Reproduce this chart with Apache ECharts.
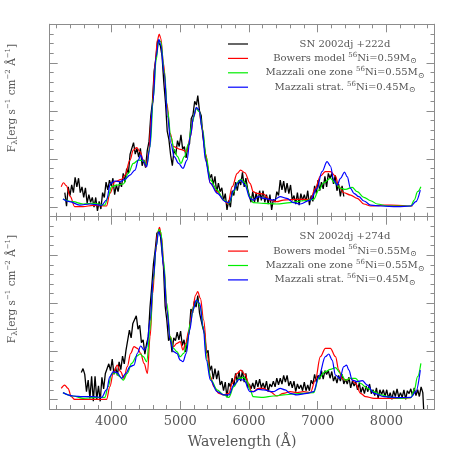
<!DOCTYPE html>
<html><head><meta charset="utf-8">
<script src="https://cdn.jsdelivr.net/npm/echarts@6/dist/echarts.min.js"></script>
<style>html,body{margin:0;padding:0;background:#fff}#c{width:458px;height:458px}</style>
</head><body><div id="c"></div>
<script>
// ---------- data (wavelength in Å, flux in arbitrary units) ----------
const xTickLabels = [4000, 5000, 6000, 7000, 8000];
const legendTop = ['SN 2002dj +222d', 'Bowers model {sup|56}Ni=0.59M{sub|⊙}', 'Mazzali one zone {sup|56}Ni=0.55M{sub|⊙}', 'Mazzali strat. {sup|56}Ni=0.45M{sub|⊙}'];
const legendBot = ['SN 2002dj +274d', 'Bowers model {sup|56}Ni=0.55M{sub|⊙}', 'Mazzali one zone {sup|56}Ni=0.55M{sub|⊙}', 'Mazzali strat. {sup|56}Ni=0.45M{sub|⊙}'];

const topObs = [[3320,2.5],[3345,1.1],[3370,3.1],[3395,2.2],[3420,3.3],[3445,2.5],[3470,4.1],[3495,3.1],[3520,4.0],[3545,2.5],[3570,3.1],[3595,2.0],[3620,3.0],[3645,1.4],[3670,2.3],[3695,1.5],[3720,2.0],[3745,1.0],[3770,2.0],[3795,0.6],[3820,1.6],[3845,0.8],[3870,2.5],[3895,2.0],[3920,3.6],[3945,2.8],[3970,3.8],[3995,3.2],[4020,4.0],[4045,2.3],[4070,3.3],[4095,2.6],[4120,3.6],[4145,3.1],[4170,4.5],[4195,3.6],[4220,5.0],[4245,4.5],[4270,6.5],[4295,6.3],[4320,7.7],[4345,6.5],[4370,7.1],[4395,6.2],[4420,7.1],[4445,5.3],[4470,5.9],[4495,5.1],[4520,6.9],[4545,7.8],[4570,10.4],[4595,11.9],[4620,15.1],[4645,16.5],[4670,18.3],[4690,18.5],[4710,17.8],[4735,16.7],[4760,14.0],[4785,11.9],[4810,8.9],[4835,8.0],[4860,6.4],[4885,5.3],[4910,7.0],[4935,6.5],[4960,7.9],[4985,7.3],[5010,8.5],[5035,7.0],[5060,7.3],[5085,6.1],[5110,7.3],[5135,7.6],[5160,10.2],[5185,10.6],[5210,12.0],[5235,11.6],[5255,12.6],[5280,11.0],[5305,10.5],[5330,8.3],[5355,8.2],[5380,5.8],[5405,5.9],[5430,4.0],[5455,4.4],[5480,3.3],[5505,4.2],[5530,2.5],[5555,3.5],[5580,2.6],[5605,3.0],[5630,1.7],[5655,2.4],[5680,0.7],[5705,1.7],[5730,1.0],[5755,2.7],[5780,2.2],[5805,3.6],[5830,2.7],[5855,3.8],[5880,3.3],[5905,4.6],[5930,3.1],[5955,4.0],[5980,2.9],[6005,2.8],[6030,1.5],[6055,2.6],[6080,1.5],[6105,2.5],[6130,1.5],[6155,2.7],[6180,1.7],[6205,2.7],[6230,1.5],[6255,2.3],[6280,1.3],[6305,2.3],[6330,0.7],[6355,1.8],[6380,1.5],[6405,2.6],[6430,2.2],[6455,3.8],[6480,2.8],[6505,3.7],[6530,2.5],[6555,3.5],[6580,2.4],[6605,3.3],[6630,1.7],[6655,2.2],[6680,1.3],[6705,2.5],[6730,1.2],[6755,2.4],[6780,1.7],[6805,2.3],[6830,1.6],[6855,2.7],[6880,1.2],[6905,2.2],[6930,1.6],[6955,3.2],[6980,2.4],[7005,3.8],[7030,2.7],[7055,3.6],[7080,2.9],[7105,4.2],[7130,3.1],[7155,4.5],[7180,4.0],[7205,4.5],[7230,3.4],[7255,4.3],[7280,2.7],[7305,3.4],[7330,2.1],[7355,3.2],[7380,2.1]];

const topBowers = [[3268,3.12],[3302,3.53],[3341,3.22],[3400,2.08],[3463,1.04],[3585,1.04],[3732,1.18],[3927,1.11],[3976,2.43],[4049,3.64],[4146,3.88],[4195,4.33],[4268,5.89],[4317,6.93],[4366,7.17],[4415,6.76],[4463,5.89],[4502,5.20],[4537,6.58],[4585,10.74],[4634,15.94],[4668,18.36],[4693,18.99],[4717,18.54],[4756,15.94],[4805,11.78],[4854,8.66],[4902,7.28],[5000,7.00],[5098,6.76],[5146,8.32],[5195,10.40],[5234,11.26],[5268,11.09],[5317,9.36],[5366,6.58],[5439,3.47],[5537,2.60],[5634,1.73],[5693,1.32],[5756,3.12],[5829,4.50],[5878,4.85],[5941,4.57],[6015,3.47],[6063,2.60],[6112,2.43],[6210,2.36],[6307,1.73],[6405,1.56],[6502,1.73],[6698,1.80],[6893,1.80],[6966,2.95],[7039,4.23],[7112,4.68],[7185,4.68],[7259,4.23],[7307,3.12],[7380,2.49],[7478,2.25],[7576,1.91],[7673,1.32],[7771,1.11],[7966,1.21],[8161,1.18],[8307,1.11],[8380,1.11]];

const topOneZone = [[3293,1.84],[3439,1.56],[3585,1.32],[3732,1.39],[3902,1.21],[3951,2.08],[4000,3.12],[4073,3.29],[4171,3.40],[4244,4.50],[4317,5.54],[4390,5.89],[4463,5.82],[4512,5.37],[4561,7.28],[4610,12.47],[4649,16.29],[4688,18.36],[4717,18.19],[4766,15.25],[4815,11.09],[4863,8.32],[4912,6.93],[4961,6.24],[5010,5.54],[5059,6.24],[5122,7.62],[5171,9.70],[5229,11.26],[5278,10.91],[5327,9.01],[5376,6.24],[5439,3.81],[5537,2.77],[5634,1.73],[5707,1.39],[5780,2.60],[5835,3.6],[5880,3.88],[5941,3.53],[6015,2.08],[6063,1.46],[6210,1.39],[6405,1.32],[6600,1.46],[6795,1.66],[6941,1.80],[7015,2.77],[7088,3.53],[7185,3.98],[7259,3.47],[7332,2.95],[7405,2.84],[7502,3.05],[7576,2.60],[7673,2.01],[7771,1.66],[7868,1.32],[8015,1.11],[8161,1.11],[8356,1.11],[8405,1.73],[8454,2.60],[8502,3.12]];

const topStrat = [[3293,1.84],[3390,1.56],[3537,1.21],[3683,1.32],[3854,1.18],[3927,1.73],[3985,3.47],[4049,3.71],[4122,3.64],[4195,3.88],[4268,4.33],[4341,4.85],[4390,5.89],[4424,6.41],[4463,5.72],[4512,5.20],[4551,6.93],[4600,11.78],[4649,16.63],[4688,18.43],[4717,17.84],[4766,14.90],[4815,10.40],[4863,7.62],[4912,6.24],[4976,5.54],[5039,5.02],[5098,5.89],[5146,8.32],[5195,10.40],[5234,11.37],[5273,11.09],[5322,9.01],[5366,5.89],[5439,3.47],[5537,2.43],[5659,1.56],[5707,1.46],[5780,2.77],[5835,3.5],[5880,3.81],[5941,3.29],[6015,1.91],[6063,1.73],[6137,2.08],[6210,1.91],[6356,1.73],[6454,2.08],[6551,1.91],[6649,1.46],[6746,1.32],[6893,1.73],[6990,2.95],[7063,4.68],[7137,5.72],[7185,5.27],[7234,3.81],[7283,3.29],[7332,3.98],[7390,4.64],[7429,4.16],[7478,2.95],[7527,2.43],[7600,2.08],[7673,1.63],[7771,1.21],[7917,1.11],[8161,1.04],[8356,1.11],[8429,1.56],[8493,2.77]];

const botObs = [[3560,3.8],[3585,4.2],[3610,3.6],[3635,1.8],[3660,3.0],[3685,1.1],[3710,3.4],[3735,0.8],[3760,3.4],[3785,1.0],[3810,2.4],[3835,0.8],[3860,3.3],[3885,2.1],[3910,3.7],[3935,3.7],[3960,4.7],[3985,4.0],[4010,5.2],[4035,3.6],[4060,4.3],[4085,3.5],[4110,4.9],[4135,4.1],[4160,5.5],[4185,4.7],[4210,6.1],[4235,6.2],[4260,8.2],[4285,7.4],[4310,8.9],[4335,8.8],[4360,9.7],[4385,8.3],[4410,8.7],[4435,6.9],[4460,7.2],[4485,5.7],[4510,6.8],[4535,7.5],[4560,10.6],[4585,12.7],[4610,15.1],[4635,16.5],[4660,18.3],[4685,18.4],[4705,18.5],[4730,16.7],[4755,14.9],[4780,10.7],[4805,9.2],[4830,7.1],[4855,7.5],[4880,5.9],[4905,7.4],[4930,7.1],[4955,8.0],[4980,7.2],[5005,8.1],[5030,6.6],[5055,7.2],[5080,5.9],[5105,7.3],[5130,8.0],[5155,10.4],[5180,10.0],[5205,11.2],[5230,10.6],[5255,11.8],[5280,10.0],[5305,10.2],[5330,8.4],[5355,7.8],[5380,5.8],[5405,6.1],[5430,4.0],[5455,4.5],[5480,3.1],[5505,4.2],[5530,3.1],[5555,4.0],[5580,2.5],[5605,2.9],[5630,1.9],[5655,2.8],[5680,1.2],[5705,2.7],[5730,2.3],[5755,3.2],[5780,2.4],[5805,3.7],[5830,2.8],[5855,3.9],[5880,2.9],[5905,4.0],[5930,2.8],[5955,3.7],[5980,2.2],[6005,2.6],[6030,2.1],[6055,2.7],[6080,2.1],[6105,3.0],[6130,2.3],[6155,3.1],[6180,2.2],[6205,2.7],[6230,2.1],[6255,2.9],[6280,1.8],[6305,2.6],[6330,2.3],[6355,2.9],[6380,2.3],[6405,3.2],[6430,2.5],[6455,3.2],[6480,2.6],[6505,3.5],[6530,2.8],[6555,3.5],[6580,2.4],[6605,2.9],[6630,2.2],[6655,2.9],[6680,1.8],[6705,2.6],[6730,2.1],[6755,2.5],[6780,1.9],[6805,2.8],[6830,1.9],[6855,2.5],[6880,1.9],[6905,3.0],[6930,2.6],[6955,3.6],[6980,2.8],[7005,3.5],[7030,3.1],[7055,4.0],[7080,3.1],[7105,4.0],[7130,3.6],[7155,4.0],[7180,3.2],[7205,3.9],[7230,2.9],[7255,3.4],[7280,2.7],[7305,3.5],[7330,2.9],[7355,3.6],[7380,2.6],[7405,3.1],[7430,2.6],[7455,3.3],[7480,2.2],[7505,2.9],[7530,2.4],[7555,2.8],[7580,2.0],[7605,2.7],[7630,1.7],[7655,2.3],[7680,1.6],[7705,2.4],[7730,1.8],[7755,2.6],[7780,1.6],[7805,2.0],[7830,1.4],[7855,2.2],[7880,1.1],[7905,2.0],[7930,1.5],[7955,2.0],[7980,1.3],[8005,2.0],[8030,1.1],[8055,1.7],[8080,1.0],[8105,1.9],[8130,1.3],[8155,2.1],[8180,1.2],[8205,1.7],[8230,1.2],[8255,2.0],[8280,1.0],[8305,1.9],[8330,1.6],[8355,2.1],[8380,1.4],[8405,2.2],[8430,1.4],[8455,2.0],[8480,1.3],[8505,2.3],[8530,1.7],[8541,1.9],[8542,0.0]];

const botBowers = [[3268,2.15],[3317,2.49],[3366,2.15],[3415,1.28],[3463,1.00],[3634,1.00],[3780,1.00],[3927,1.00],[3976,2.32],[4024,3.71],[4083,4.57],[4132,3.88],[4180,3.19],[4229,4.40],[4278,5.79],[4327,6.48],[4376,6.31],[4424,5.79],[4473,4.75],[4522,3.71],[4561,7.52],[4600,12.02],[4639,16.18],[4668,18.26],[4698,18.88],[4727,17.91],[4766,14.45],[4805,10.29],[4854,7.52],[4902,6.48],[4951,6.83],[5000,7.00],[5039,6.13],[5078,6.83],[5127,8.21],[5176,10.29],[5224,11.85],[5254,12.20],[5293,11.50],[5341,9.25],[5390,5.79],[5439,3.36],[5488,2.32],[5561,1.63],[5634,1.46],[5707,1.63],[5756,2.67],[5829,3.71],[5880,4.05],[5941,3.6],[6000,2.6],[6030,1.9],[6063,1.80],[6137,2.15],[6210,2.15],[6307,1.80],[6405,1.35],[6502,1.63],[6600,1.80],[6698,1.70],[6795,1.80],[6893,1.70],[6966,3.01],[7039,5.44],[7112,6.31],[7185,6.31],[7259,5.44],[7307,4.05],[7356,3.19],[7405,3.01],[7478,3.19],[7551,2.67],[7624,1.63],[7698,1.28],[7820,1.11],[8015,1.11],[8210,1.11],[8356,1.18]];

const botOneZone = [[3293,1.70],[3439,1.35],[3585,1.11],[3732,1.18],[3902,1.21],[3951,2.32],[4000,3.64],[4063,3.78],[4122,3.36],[4171,3.01],[4229,3.71],[4293,4.75],[4366,5.51],[4415,5.72],[4463,5.44],[4512,4.92],[4561,8.21],[4610,13.41],[4649,16.87],[4688,18.68],[4717,18.43],[4756,15.49],[4805,10.98],[4854,7.52],[4902,6.31],[4951,5.96],[5000,5.44],[5049,5.79],[5098,6.83],[5146,8.91],[5195,10.64],[5244,11.33],[5293,10.64],[5341,8.21],[5390,5.09],[5449,3.01],[5537,1.98],[5634,1.46],[5707,1.21],[5780,2.32],[5854,3.19],[5927,3.29],[5970,2.9],[6015,2.0],[6063,1.28],[6210,1.21],[6356,1.35],[6502,1.46],[6649,1.56],[6795,1.63],[6941,1.70],[7015,3.19],[7112,3.88],[7185,4.12],[7259,4.30],[7332,3.71],[7405,3.01],[7478,3.19],[7551,3.19],[7624,2.67],[7722,2.15],[7820,1.80],[7917,1.46],[8063,1.21],[8210,1.11],[8356,1.18],[8405,1.98],[8454,3.36],[8502,4.75]];

const botStrat = [[3293,1.70],[3439,1.35],[3585,1.28],[3732,1.28],[3854,1.21],[3927,1.98],[3976,3.36],[4024,3.88],[4083,3.78],[4146,3.19],[4210,3.71],[4268,4.40],[4327,4.57],[4376,5.79],[4424,6.55],[4473,6.13],[4512,6.48],[4561,9.25],[4610,13.76],[4649,16.87],[4683,18.43],[4717,17.91],[4756,14.80],[4805,10.29],[4854,7.17],[4902,5.96],[4951,5.79],[5000,5.09],[5039,4.92],[5088,5.79],[5137,8.21],[5185,10.29],[5234,11.33],[5283,10.98],[5332,8.56],[5380,5.09],[5439,3.01],[5537,1.80],[5634,1.46],[5707,1.46],[5780,2.49],[5854,3.08],[5927,3.01],[6015,1.80],[6063,1.80],[6137,2.04],[6210,1.98],[6356,1.80],[6454,2.15],[6527,1.98],[6600,1.63],[6698,1.46],[6844,1.63],[6941,1.80],[7015,3.36],[7112,5.44],[7161,5.72],[7210,5.09],[7259,3.53],[7322,3.19],[7380,4.40],[7420,4.57],[7454,4.05],[7502,3.01],[7576,2.84],[7649,2.95],[7722,2.49],[7820,1.63],[7966,1.28],[8161,1.18],[8356,1.21],[8429,1.80],[8493,4.05]];

// ---------- layout / style ----------
const AX = '#8c8c8c', TXT = '#555', FONT = 'DejaVu Serif';
const colors = ['#000000', '#ff0000', '#00ee00', '#0000ff'];
const xMin = 3100, xMax = 8700;
const xMajorTicks = [4000, 5000, 6000, 7000, 8000];
const xMinorTicks = []; for (let v = 3200; v <= 8600; v += 200) xMinorTicks.push(v);
const yMajorTicks = [1, 6, 11, 16];
const yMinorTicks = []; for (let v = 1; v < 20; v++) yMinorTicks.push(v);

const gridDefs = [
  {left: 49.7, top: 24.3, width: 384.8, height: 192.4},
  {left: 49.7, top: 216.7, width: 384.8, height: 192.3}
];

function xAx(g, pos, major, labels) {
  return {
    type: 'value', gridIndex: g, position: pos, min: xMin, max: xMax,
    axisLine: {show: true, onZero: false, lineStyle: {color: AX, width: 1}},
    axisTick: {show: true, inside: true, length: major ? 8 : 4, customValues: major ? xMajorTicks : xMinorTicks, lineStyle: {color: AX, width: 1}},
    axisLabel: {show: labels, customValues: xTickLabels, formatter: v => String(v), color: TXT, fontFamily: FONT, fontSize: 13, margin: 6},
    splitLine: {show: false},
    name: labels ? 'Wavelength (Å)' : '', nameLocation: 'middle', nameGap: 26,
    nameTextStyle: {color: TXT, fontFamily: FONT, fontSize: 14}
  };
}
function yAx(g, pos, major) {
  return {
    type: 'value', gridIndex: g, position: pos, min: 0, max: 20,
    axisLine: {show: true, onZero: false, lineStyle: {color: AX, width: 1}},
    axisTick: {show: true, inside: true, length: major ? 8 : 4, customValues: major ? yMajorTicks : yMinorTicks, lineStyle: {color: AX, width: 1}},
    axisLabel: {show: false},
    splitLine: {show: false}
  };
}
const xAxes = [], yAxes = [];
for (let g = 0; g < 2; g++) {
  xAxes.push(xAx(g, 'bottom', true, g === 1), xAx(g, 'bottom', false, false), xAx(g, 'top', true, false), xAx(g, 'top', false, false));
  yAxes.push(yAx(g, 'left', true), yAx(g, 'left', false), yAx(g, 'right', true), yAx(g, 'right', false));
}

function line(data, g, color, width, smooth) {
  return {type: 'line', data: data, xAxisIndex: g * 4, yAxisIndex: g * 4, symbol: 'none', showSymbol: false,
    smooth: smooth ? 0.35 : false, smoothMonotone: 'x', clip: true,
    lineStyle: {color: color, width: width}, itemStyle: {color: color}, silent: true};
}
const series = [
  line(topObs, 0, colors[0], 1.3, false), line(topBowers, 0, colors[1], 1.2, true),
  line(topOneZone, 0, colors[2], 1.2, true), line(topStrat, 0, colors[3], 1.2, true),
  line(botObs, 1, colors[0], 1.3, false), line(botBowers, 1, colors[1], 1.2, true),
  line(botOneZone, 1, colors[2], 1.2, true), line(botStrat, 1, colors[3], 1.2, true)
];

const richDef = {
  sup: {fontSize: 7, fontFamily: FONT, lineHeight: 8, verticalAlign: 'top', fill: TXT, color: TXT},
  sub: {fontSize: 8, fontFamily: FONT, lineHeight: 8, verticalAlign: 'bottom', fill: TXT, color: TXT}
};
const graphics = [];
function addLegend(rowsY, labels) {
  labels.forEach((t, i) => {
    const y = rowsY[i];
    graphics.push({type: 'line', shape: {x1: 228, y1: y, x2: 248, y2: y}, style: {stroke: colors[i], lineWidth: 1.2}, silent: true});
    graphics.push({type: 'text', x: 345, y: y, silent: true,
      style: {text: t, fill: TXT, fontSize: 10, fontFamily: FONT, lineHeight: 14, align: 'center', verticalAlign: 'middle', textAlign: 'center', textVerticalAlign: 'middle', rich: richDef}});
  });
}
addLegend([44, 58.4, 72.8, 87.2], legendTop);
addLegend([236.7, 251.1, 265.5, 279.9], legendBot);
const yLabel = 'F{sub|λ}[erg s{sup|−1} cm{sup|−2} Å{sup|−1}]';
[98, 289].forEach(cy => {
  graphics.push({type: 'text', x: 12, y: cy, rotation: Math.PI / 2, silent: true,
    style: {text: yLabel, fill: TXT, fontSize: 10.5, fontFamily: FONT, lineHeight: 14, align: 'center', verticalAlign: 'middle', textAlign: 'center', textVerticalAlign: 'middle', rich: richDef}});
});

const chart = echarts.init(document.getElementById('c'), null, {renderer: 'canvas'});
chart.setOption({
  animation: false,
  backgroundColor: '#fff',
  grid: gridDefs,
  xAxis: xAxes,
  yAxis: yAxes,
  series: series,
  graphic: graphics
});
</script></body></html>
